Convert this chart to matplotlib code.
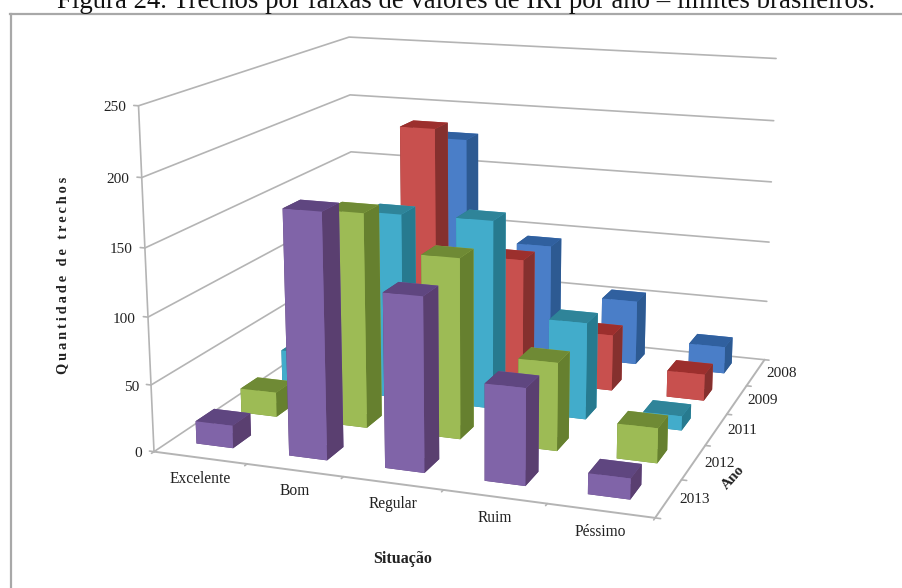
import numpy as np
import matplotlib
matplotlib.use("Agg")
import matplotlib.pyplot as plt
from matplotlib.lines import Line2D
from mpl_toolkits.mplot3d import proj3d

plt.rcParams['font.family'] = ['Liberation Serif', 'DejaVu Serif']

situacao = ["Excelente", "Bom", "Regular", "Ruim", "Péssimo"]
anos = ["2013", "2012", "2011", "2009", "2008"]
z_ticks = [0, 50, 100, 150, 200, 250]

# one list per year, in the order of situacao
v2013 = [17, 180, 127, 70, 15]
v2012 = [19, 163, 136, 66, 26]
v2011 = [28, 146, 147, 75, 11]
v2009 = [25, 199, 99, 45, 21]
v2008 = [20, 177, 93, 53, 22]
valores = [v2013, v2012, v2011, v2009, v2008]

# front, side, top
cores = [
    ("#8064A8", "#5A3F70", "#5F4680"),
    ("#9DBB55", "#66802F", "#6F8A35"),
    ("#42ACCB", "#277A8F", "#2F8499"),
    ("#C8504E", "#85302E", "#9C2F2D"),
    ("#4A7EC8", "#2D5A92", "#30609F"),
]

W, H = 903, 588
BAR_W = 0.40
BAR_D = 0.40
GRID = "#b4b4b4"
TXT = "#222222"

fig = plt.figure(figsize=(W / 100, H / 100), dpi=100)
ax = fig.add_subplot(projection='3d', computed_zorder=False)
ax.set_xlim(0, 5)
ax.set_ylim(0, 5)
ax.set_zlim(0, 250)
ax.set_box_aspect((1.4717, 1.4413, 1.0))
ax.view_init(elev=14.1384, azim=-70.4626)
ax.set_proj_type('persp', focal_length=0.4746)
ax.set_axis_off()

# place the square axes so one projected unit is 3988 px
s, tx, ty = 3988.393, 481.285, 244.809
x0, x1 = ax.viewLim.intervalx
y0, y1 = ax.viewLim.intervaly
ax.set_position([(tx + s * x0) / W, (H - ty + s * y0) / H, s * (x1 - x0) / W, s * (y1 - y0) / H])

def line(xs, ys, zs, lw=1.2, z=1):
    ax.plot(xs, ys, zs, color=GRID, lw=lw, zorder=z, solid_capstyle='round')

def label(x, y, z, txt, dx, dy, **kw):
    px, py, _ = proj3d.proj_transform(x, y, z, ax.get_proj())
    ax.annotate(txt, (px, py), xytext=(dx, dy), textcoords='offset pixels',
                ha=kw.pop('ha', 'center'), va=kw.pop('va', 'center'), color=TXT, annotation_clip=False, **kw)

# walls and floor
for v in z_ticks:
    line([0, 0, 5], [0, 5, 5], [v, v, v])
    line([-0.05, 0], [0, 0], [v, v])
    label(0, 0, v, str(v), -12, -2, ha='right', fontsize=11)
line([0, 0], [0, 0], [0, 250])
line([0, 5, 5], [0, 0, 5], [0, 0, 0], lw=1.4, z=1)
for i in range(6):
    line([i, i], [0, -0.05], [0, 0])
    line([5, 5.05], [i, i], [0, 0])

# bars from the back row to the front, left to right
n = 2
for j in reversed(range(len(anos))):
    frente, lado, topo = cores[j]
    for i in range(len(situacao)):
        b = ax.bar3d(i + 0.48 - BAR_W / 2, j + 0.55 - BAR_D / 2, 0, BAR_W, BAR_D, valores[j][i],
                     color=[topo, topo, frente, frente, lado, lado], shade=False)
        b.set_zorder(n)
        n += 1

for i, nome in enumerate(situacao):
    label(i + 0.5, 0, 0, nome, 0, -21, fontsize=11.2)
for j, ano in enumerate(anos):
    label(5, j + 0.5, 0, ano, 26, -1, fontsize=11)

fig.text(403 / W, 1 - 559 / H, "Situação", fontsize=11.5, fontweight='bold', ha='center', va='center', color=TXT)
fig.text(733 / W, 1 - 478 / H, "Ano", fontsize=11, fontweight='bold', ha='center', va='center', rotation=48, color=TXT)
fig.text(63 / W, 1 - 275 / H, "\u2009".join("Quantidade de trechos"), fontsize=10.4, fontweight='bold',
         ha='center', va='center', rotation=90, color=TXT)

fig.text(57 / W, 1 - 8.5 / H, "Figura 24. Trechos por faixas de valores de IRI por ano – limites brasileiros.",
         fontsize=19.3, ha='left', va='baseline', color="#111111")

# chart frame, runs off the right and bottom edges
fig.add_artist(Line2D([10 / W, 1], [1 - 14 / H, 1 - 14 / H], color="#a8a8a8", lw=1.6))
fig.add_artist(Line2D([11 / W, 11 / W], [1 - 14 / H, 0], color="#a8a8a8", lw=1.6))

fig.savefig("out.png", dpi=100)
